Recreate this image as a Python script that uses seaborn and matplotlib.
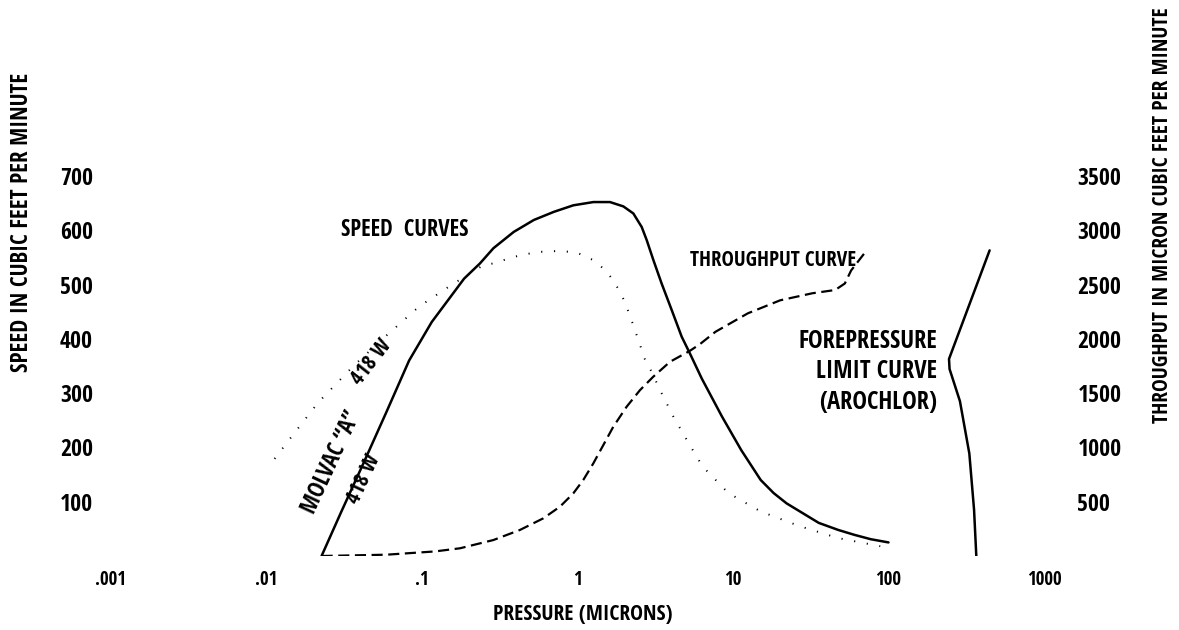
import matplotlib
matplotlib.use("Agg")
import matplotlib.pyplot as plt
import matplotlib.font_manager as fm
from matplotlib.font_manager import FontProperties
from matplotlib.textpath import TextPath
from matplotlib.ft2font import FT2Font
import seaborn as sns

# ---------------- data ----------------
x_ticks = [0.001, 0.01, 0.1, 1, 10, 100, 1000]
x_tick_labels = [".001", ".01", ".1", "1", "10", "100", "1000"]
speed_ticks = [100, 200, 300, 400, 500, 600, 700]
throughput_ticks = [500, 1000, 1500, 2000, 2500, 3000, 3500]

# Molvac "A" 418 W speed curve (solid), cubic feet per minute
molvac_p = [0.0226, 0.0301, 0.0422, 0.059, 0.0826, 0.1155, 0.1866, 0.236, 0.288,
            0.389, 0.524, 0.705, 0.94, 1.265, 1.618, 1.972, 2.286, 2.588, 2.786,
            3.077, 3.475, 4.036, 4.677, 5.285, 6.295, 8.49, 11.3, 15.07, 18.24,
            22.1, 28.05, 35.6, 47.5, 60.3, 76.7, 100]
molvac_s = [0, 80, 172, 265, 360, 431, 511, 539, 567, 597, 619, 634, 646, 652, 652,
            644, 631, 606, 582, 545, 502, 453, 404, 373, 327, 257, 195, 140, 116,
            97, 79, 61, 48, 39, 31, 25]

# 418 W speed curve (dotted)
w418_p = [0.01127, 0.01469, 0.02153, 0.0365, 0.059, 0.0953, 0.154, 0.249, 0.288,
          0.389, 0.547, 0.77, 0.989, 1.265, 1.503, 1.698, 1.923, 2.07, 2.286, 2.716,
          3.0, 3.39, 4.13, 5.28, 6.37, 9.33, 15.07, 26.8, 47.5, 88.5]
w418_s = [179, 222, 283, 351, 406, 459, 499, 536, 539, 551, 560, 562, 559, 545, 527,
          508, 481, 459, 425, 362, 339, 306, 257, 204, 165, 116, 82, 55, 33, 18]

# Throughput curve (dashed), micron cubic feet per minute
thr_p = [0.0226, 0.059, 0.121, 0.1754, 0.2877, 0.4266, 0.6026, 0.7709, 0.9397, 1.089,
         1.265, 1.466, 1.698, 2.07, 2.523, 3.069, 3.936, 5.284, 6.138, 7.71, 12.45,
         20.1, 32.4, 45.4, 52.4, 57.5, 69.7]
thr_q = [0, 12, 42, 71, 147, 240, 347, 454, 577, 700, 854, 1022, 1190, 1375, 1528,
         1651, 1789, 1890, 1952, 2065, 2235, 2355, 2420, 2450, 2510, 2630, 2785]

# Forepressure limit curve (Arochlor), solid
fore_p = [447, 245, 247, 288, 331, 355, 367]
fore_q = [2815, 1815, 1722, 1426, 944, 426, 0]

NEEDED = "SPEEDCURVSTHROUGHPUTFOREPRESSURELIMITAROCHLORMOLVACNBW()0123456789. \u201c\u201d"
FAMILIES = ("liberation", "dejavu", "noto sans", "roboto", "open sans", "lato", "inter")


# ---------------- font: the narrowest bold sans face that has every letter ----------------
def pick_font_file():
    def wnum(w):
        if isinstance(w, (int, float)):
            return w
        return {"bold": 700, "heavy": 800, "black": 900, "semibold": 600,
                "demibold": 600, "extra bold": 800}.get(str(w).lower(), 400)

    best = None
    seen = set()
    for f in fm.fontManager.ttflist:
        if f.fname in seen:
            continue
        seen.add(f.fname)
        name = f.name.lower()
        low = (f.name + " " + f.fname).lower()
        if not any(name.startswith(k) for k in FAMILIES):
            continue
        if any(k in low for k in ("cjk", "mono", "italic", "oblique", "math", "symbol")):
            continue
        if "serif" in name and "sans" not in name:
            continue
        if f.style != "normal":
            continue
        w = wnum(f.weight)
        if not (600 <= w <= 800):
            continue
        try:
            cmap = FT2Font(f.fname).get_charmap()
            if not all(ord(c) in cmap for c in set(NEEDED)):
                continue
            ext = TextPath((0, 0), "SPEED CURVES",
                           prop=FontProperties(fname=f.fname), size=20).get_extents()
        except Exception:
            continue
        if ext.height <= 0:
            continue
        ratio = ext.width / ext.height
        if best is None or ratio < best[0]:
            best = (ratio, f.fname)
    if best is not None:
        return best[1]
    return fm.findfont(FontProperties(family="DejaVu Sans", weight="bold"))


FONT_FILE = pick_font_file()


def fp(size):
    return FontProperties(fname=FONT_FILE, size=size)


# ---------------- figure ----------------
sns.set_theme(style="white")
plt.rcParams["font.family"] = ["DejaVu Sans"]
plt.rcParams["text.color"] = "black"

W, H = 1179, 630
fig = plt.figure(figsize=(W / 100, H / 100), dpi=100)
left, right, bottom, top = 111 / W, 1044 / W, (H - 556) / H, (H - 176) / H
ax = fig.add_axes([left, bottom, right - left, top - bottom])
ax2 = ax.twinx()

sns.lineplot(x=molvac_p, y=molvac_s, ax=ax, color="black", lw=1.8,
             sort=False, estimator=None)
sns.lineplot(x=w418_p, y=w418_s, ax=ax, color="black", lw=1.4,
             linestyle=(0, (0.6, 6)), sort=False, estimator=None)
sns.lineplot(x=thr_p, y=thr_q, ax=ax2, color="black", lw=1.6,
             linestyle=(0, (5, 2.5)), sort=False, estimator=None)
sns.lineplot(x=fore_p, y=fore_q, ax=ax2, color="black", lw=1.8,
             sort=False, estimator=None)

ax.set_xscale("log")
ax.set_xlim(0.001, 1000)
ax.set_ylim(0, 700)
ax2.set_ylim(0, 3500)

ax.set_xticks(x_ticks)
ax.set_xticklabels(x_tick_labels)
ax.minorticks_off()
ax.set_yticks(speed_ticks)
ax.set_yticklabels([str(v) for v in speed_ticks])
ax2.set_yticks(throughput_ticks)
ax2.set_yticklabels([str(v) for v in throughput_ticks])

for a in (ax, ax2):
    for s in a.spines.values():
        s.set_visible(False)
    a.grid(False)
    a.set_xlabel("")
    a.set_ylabel("")

renderer = fig.canvas.get_renderer()


def size_for(text, target_w, base=20.0, cap=30.0):
    t = fig.text(0, 0, text, fontproperties=fp(base))
    w = t.get_window_extent(renderer).width
    t.remove()
    if w <= 0:
        return 12.0
    return min(cap, base * target_w / w)


tick_size = size_for("3500", 44)
xt_size = size_for("1000", 35)

ax.tick_params(axis="x", length=0, pad=10, colors="black")
ax.tick_params(axis="y", length=0, pad=13, colors="black")
ax2.tick_params(axis="y", length=0, pad=24, colors="black")
for lab in ax.get_xticklabels():
    lab.set_fontproperties(fp(xt_size))
for lab in ax.get_yticklabels():
    lab.set_fontproperties(fp(tick_size))
for lab in ax2.get_yticklabels():
    lab.set_fontproperties(fp(tick_size))

# axis titles
fig.text(583 / W, 1 - 615 / H, "PRESSURE (MICRONS)", ha="center", va="center",
         fontproperties=fp(size_for("PRESSURE (MICRONS)", 179)))
fig.text(22 / W, 1 - 222 / H, "SPEED IN CUBIC FEET PER MINUTE", ha="center",
         va="center", rotation=90,
         fontproperties=fp(size_for("SPEED IN CUBIC FEET PER MINUTE", 299)))
fig.text(1163 / W, 1 - 215 / H, "THROUGHPUT IN MICRON CUBIC FEET PER MINUTE",
         ha="center", va="center", rotation=90,
         fontproperties=fp(size_for("THROUGHPUT IN MICRON CUBIC FEET PER MINUTE", 415)))

# annotations
ax.text(0.0778, 600, "SPEED  CURVES", ha="center", va="center",
        fontproperties=fp(size_for("SPEED  CURVES", 128)))
ax.text(62, 545, "THROUGHPUT CURVE", ha="right", va="center",
        fontproperties=fp(size_for("THROUGHPUT CURVE", 165)))
ax.text(205, 339, "FOREPRESSURE\nLIMIT CURVE\n(AROCHLOR)", ha="right",
        va="center", multialignment="right", linespacing=1.3,
        fontproperties=fp(size_for("FOREPRESSURE", 139)))
ax.text(0.0477, 357, "418 W", ha="center", va="center", rotation=52,
        fontproperties=fp(size_for("418 W", 52)))
ax.text(0.0262, 172, "MOLVAC \u201cA\u201d", ha="center", va="center", rotation=65,
        fontproperties=fp(size_for("MOLVAC \u201cA\u201d", 110)))
ax.text(0.0424, 142, "418 W", ha="center", va="center", rotation=65,
        fontproperties=fp(size_for("418 W", 52)))

fig.savefig("out.png", dpi=100, facecolor="white")
